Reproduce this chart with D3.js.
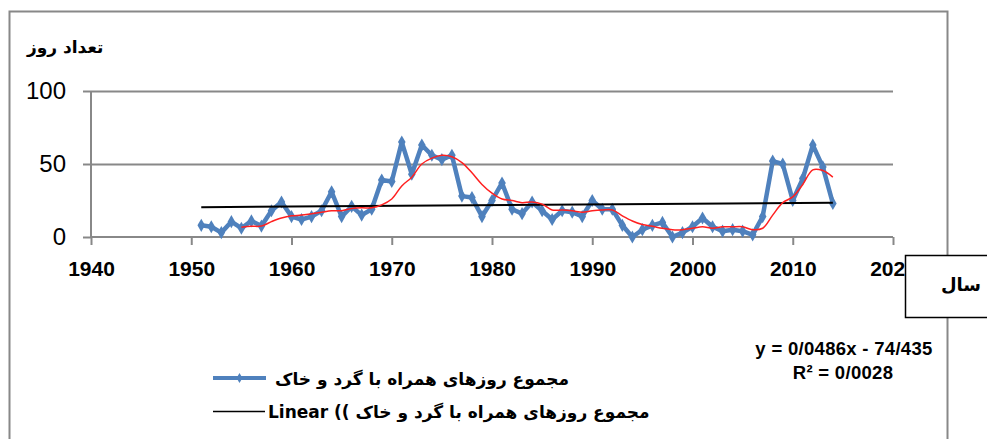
<!DOCTYPE html>
<html>
<head>
<meta charset="utf-8">
<script src="https://cdn.jsdelivr.net/npm/d3@7"></script>
<style>
  body { margin: 0; background: #fff; }
  svg { display: block; }
</style>
</head>
<body>
<div id="chart"></div>
<script>
// years and dusty days
var years = d3.range(1951, 2015);
var dustDays = [8, 7, 3, 10.5, 6, 11, 7.5, 18, 24, 14,
                12, 14, 18, 31, 14, 21, 15, 19, 39, 38,
                65, 43, 63, 56, 53, 56, 28, 27, 14, 25,
                37, 19, 16, 24, 18, 12, 18, 17, 14, 25,
                19, 19, 8, 0, 5, 8, 10, 0, 3, 7,
                13, 7, 4, 5, 4, 1.5, 14, 52, 50, 25,
                40, 63, 48, 23];
// red moving average line, 1955 - 2014
var avgYears = d3.range(1955, 2015);
var avgDays = [6.6, 7.3, 7.5, 10.5, 13, 14.5,
               15, 16, 17, 18, 18, 19.5, 20, 20, 22, 26,
               35, 41, 50, 54, 56, 55, 51, 44, 36, 30,
               26, 25, 23.5, 24, 22.5, 18.5, 18.5, 18, 17, 18,
               18.5, 18.5, 14.5, 11, 8.5, 7.3, 6, 5, 5, 6,
               7, 6, 7, 7, 7, 5, 6, 15, 23.5, 27.5,
               36, 46, 45.5, 41];
// trend line from the label
var slope = 0.0486, intercept = -74.435;
var xTicks = [1940, 1950, 1960, 1970, 1980, 1990, 2000, 2010, 2020];
var yTicks = [0, 50, 100];

var yTitle = "تعداد روز";
var xTitle = "سال";
var seriesName = "مجموع روزهای همراه با گرد و خاک";
// bidi mirrors the brackets, so they are typed the other way round
var trendName = "Linear (( مجموع روزهای همراه با گرد و خاک";
var eqLine1 = "y = 0/0486x - 74/435";
var eqLine2 = "R² = 0/0028";

var width = 987, height = 439;
var gridColor = "#888888";
var blue = "#4F81BD";
var latin = "'Liberation Sans', Arial, sans-serif";
var arabic = "'DejaVu Sans', sans-serif";

var svg = d3.select("#chart")
  .append("svg")
    .attr("width", width)
    .attr("height", height);

// outer frame
svg.append("rect")
  .attr("x", 9.5).attr("y", 11.5)
  .attr("width", 938).attr("height", 450)
  .attr("fill", "#fff")
  .attr("stroke", gridColor)
  .attr("stroke-width", 2);

var x = d3.scaleLinear()
    .domain([1940, 2020])
    .range([91, 893]);
var y = d3.scaleLinear()
    .domain([0, 100])
    .range([237, 91]);

// grid lines
svg.append("g")
  .selectAll("line")
  .data(yTicks.filter(d => d > 0))
  .enter().append("line")
    .attr("x1", x(1940)).attr("x2", x(2020))
    .attr("y1", d => Math.round(y(d)) + 0.5)
    .attr("y2", d => Math.round(y(d)) + 0.5)
    .attr("stroke", gridColor)
    .attr("stroke-width", 2);

// y axis
var yAxis = svg.append("g")
  .attr("transform", "translate(" + x(1940) + ",0)")
  .call(d3.axisLeft(y).tickValues(yTicks).tickSize(8).tickPadding(17));
yAxis.selectAll("path, line").attr("stroke", gridColor).attr("stroke-width", 2);
yAxis.select(".domain").attr("d", "M0," + y(100) + "V" + y(0));
yAxis.selectAll("text")
  .attr("font-family", latin)
  .attr("font-size", 24)
  .attr("fill", "#000");

// x axis
var xAxis = svg.append("g")
  .attr("transform", "translate(0," + y(0) + ")")
  .call(d3.axisBottom(x).tickValues(xTicks).tickFormat(d3.format("d")).tickSize(8).tickPadding(16));
xAxis.selectAll("path, line").attr("stroke", gridColor).attr("stroke-width", 2);
xAxis.select(".domain").attr("d", "M" + x(1940) + ",0H" + x(2020));
xAxis.selectAll("text")
  .attr("font-family", latin)
  .attr("font-size", 21)
  .attr("font-weight", "bold")
  .attr("fill", "#000");

// dusty days series
var pts = years.map((yr, i) => [yr, dustDays[i]]);
var line = d3.line()
  .x(d => x(d[0]))
  .y(d => y(d[1]));
svg.append("path")
  .datum(pts)
  .attr("fill", "none")
  .attr("stroke", blue)
  .attr("stroke-width", 4.5)
  .attr("stroke-linejoin", "round")
  .attr("d", line);
svg.append("g")
  .selectAll("path")
  .data(pts)
  .enter().append("path")
    .attr("transform", d => "translate(" + x(d[0]) + "," + y(d[1]) + ")")
    .attr("d", d3.symbol().type(d3.symbolDiamond).size(50))
    .attr("fill", blue);

// linear trend
var trendYears = [years[0], years[years.length - 1]];
svg.append("path")
  .datum(trendYears)
  .attr("fill", "none")
  .attr("stroke", "#000")
  .attr("stroke-width", 2)
  .attr("d", d3.line().x(d => x(d)).y(d => y(slope * d + intercept)));

// moving average
svg.append("path")
  .datum(avgYears.map((yr, i) => [yr, avgDays[i]]))
  .attr("fill", "none")
  .attr("stroke", "#FF2020")
  .attr("stroke-width", 1.5)
  .attr("d", d3.line().x(d => x(d[0])).y(d => y(d[1])).curve(d3.curveCatmullRom));

// axis titles
svg.append("text")
  .attr("x", 27).attr("y", 53)
  .attr("font-family", arabic)
  .attr("font-size", 17)
  .attr("font-weight", "bold")
  .text(yTitle);

svg.append("rect")
  .attr("x", 905.5).attr("y", 255.5)
  .attr("width", 100).attr("height", 62)
  .attr("fill", "#fff")
  .attr("stroke", "#000")
  .attr("stroke-width", 1.5);
svg.append("text")
  .attr("x", 961).attr("y", 291)
  .attr("text-anchor", "middle")
  .attr("font-family", arabic)
  .attr("font-size", 18)
  .attr("font-weight", "bold")
  .text(xTitle);

// trend equation
var eq = svg.append("g")
  .attr("font-family", latin)
  .attr("font-size", 18.5)
  .attr("font-weight", "bold")
  .attr("letter-spacing", 0.3)
  .attr("text-anchor", "middle");
eq.append("text").attr("x", 844).attr("y", 355).text(eqLine1);
eq.append("text").attr("x", 843).attr("y", 379).text(eqLine2);

// legend
var legend = svg.append("g");
legend.append("line")
  .attr("x1", 213).attr("x2", 266)
  .attr("y1", 378).attr("y2", 378)
  .attr("stroke", blue).attr("stroke-width", 4);
legend.append("path")
  .attr("transform", "translate(239.5,378)")
  .attr("d", d3.symbol().type(d3.symbolDiamond).size(30))
  .attr("fill", blue);
legend.append("text")
  .attr("x", 275).attr("y", 385)
  .attr("font-family", arabic)
  .attr("font-size", 17)
  .attr("font-weight", "bold")
  .text(seriesName);
legend.append("line")
  .attr("x1", 213).attr("x2", 265)
  .attr("y1", 411.5).attr("y2", 411.5)
  .attr("stroke", "#000").attr("stroke-width", 1.5);
legend.append("text")
  .attr("x", 268).attr("y", 418)
  .attr("font-family", arabic)
  .attr("font-size", 17)
  .attr("font-weight", "bold")
  .text(trendName);
</script>
</body>
</html>
